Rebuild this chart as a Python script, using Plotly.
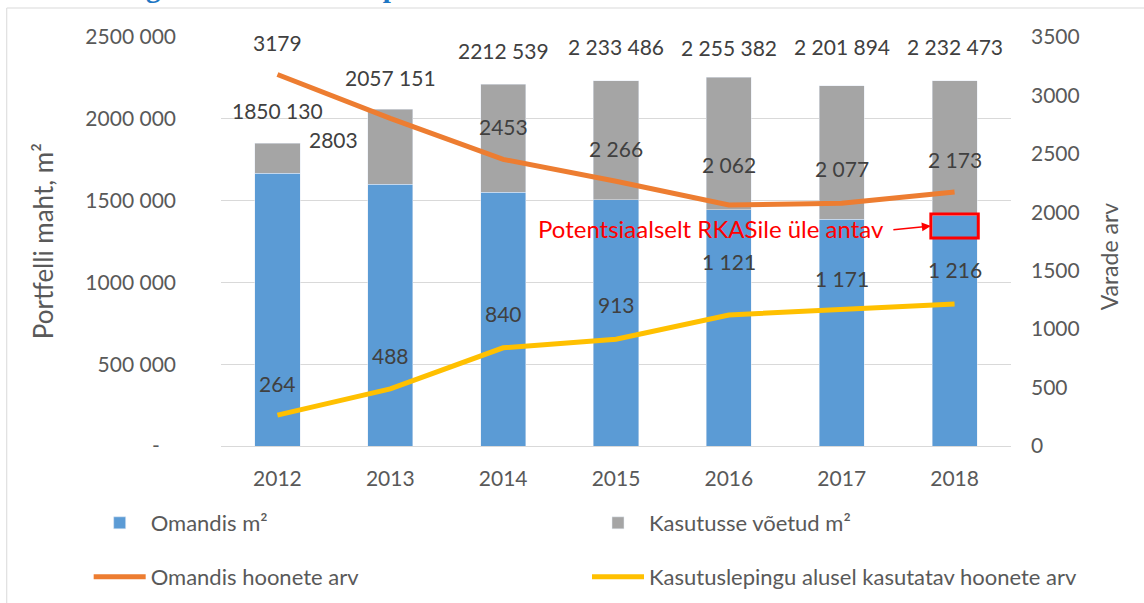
import plotly.graph_objects as go

years = ["2012", "2013", "2014", "2015", "2016", "2017", "2018"]
owned_m2 = [1667000, 1600000, 1551000, 1505000, 1443000, 1386000, 1410000]
total_m2 = [1850130, 2057151, 2212539, 2233486, 2255382, 2201894, 2232473]
total_labels = ["1850 130", "2057 151", "2212 539", "2 233 486", "2 255 382", "2 201 894", "2 232 473"]
used_m2 = [t - o for t, o in zip(total_m2, owned_m2)]
owned_count = [3179, 2803, 2453, 2266, 2062, 2077, 2173]
owned_count_labels = ["3179", "2803", "2453", "2 266", "2 062", "2 077", "2 173"]
lease_count = [264, 488, 840, 913, 1121, 1171, 1216]
lease_count_labels = ["264", "488", "840", "913", "1 121", "1 171", "1 216"]

left_ticks = [0, 500000, 1000000, 1500000, 2000000, 2500000]
left_ticktext = ["-\u00a0\u00a0\u00a0", "500 000", "1000 000", "1500 000", "2000 000", "2500 000"]

# label offsets (px) -- styling only
total_shift = [33, 32, 34, 34, 30, 39, 34]
owned_shift = [(0, 32), (-57, -21), (0, 33), (0, 33), (0, 41), (0, 35), (0, 33)]
lease_shift = [32, 33, 34, 35, 54, 31, 34]

BLUE = "#5B9BD5"
GRAY = "#A5A5A5"
ORANGE = "#ED7D31"
YELLOW = "#FFC000"
TXT = "#595959"
LBL = "#404040"
FONT = "Lato"

fig = go.Figure()
fig.add_trace(go.Bar(x=years, y=owned_m2, name="Omandis m²", marker_color=BLUE,
                     width=0.4, legend="legend"))
fig.add_trace(go.Bar(x=years, y=used_m2, name="Kasutusse võetud m²", marker_color=GRAY,
                     width=0.4, legend="legend2"))
fig.add_trace(go.Scatter(x=years, y=owned_count, name="Omandis hoonete arv", mode="lines",
                         line=dict(color=ORANGE, width=5), yaxis="y2", legend="legend3"))
fig.add_trace(go.Scatter(x=years, y=lease_count, name="Kasutuslepingu alusel kasutatav hoonete arv",
                         mode="lines", line=dict(color=YELLOW, width=5), yaxis="y2", legend="legend4"))

ann = []
for i in range(len(years)):
    ann.append(dict(x=i, y=total_m2[i], xref="x", yref="y", text=total_labels[i],
                    showarrow=False, yshift=total_shift[i], font=dict(size=21, color=LBL, family=FONT)))
    ann.append(dict(x=i, y=owned_count[i], xref="x", yref="y2", text=owned_count_labels[i],
                    showarrow=False, xshift=owned_shift[i][0], yshift=owned_shift[i][1],
                    font=dict(size=21, color=LBL, family=FONT)))
    ann.append(dict(x=i, y=lease_count[i], xref="x", yref="y2", text=lease_count_labels[i],
                    showarrow=False, yshift=lease_shift[i], font=dict(size=21, color=LBL, family=FONT)))

last = len(years) - 1
# red callout
ann.append(dict(x=last - 0.21, y=1332000, xref="x", yref="y", text="Potentsiaalselt RKASile üle antav",
                showarrow=False, xanchor="right", xshift=-45,
                font=dict(size=24, color="#FF0000", family=FONT)))
ann.append(dict(x=last - 0.21, y=1345000, xref="x", yref="y", text="", showarrow=True,
                ax=-39, ay=4, arrowhead=2, arrowsize=1.2, arrowwidth=1.5, arrowcolor="#FF0000", standoff=0))
# axis titles
ann.append(dict(x=-0.2257, y=0.5, xref="paper", yref="paper", text="Portfelli maht, m²", textangle=-90,
                xanchor="center", yanchor="middle",
                showarrow=False, font=dict(size=26, color=TXT, family=FONT)))
ann.append(dict(x=1.1245, y=0.4645, xref="paper", yref="paper", text="Varade arv", textangle=-90,
                xanchor="center", yanchor="middle",
                showarrow=False, font=dict(size=23, color=TXT, family=FONT)))
# clipped caption at top
ann.append(dict(x=-0.2813, y=1.0783, xref="paper", yref="paper", xanchor="left", yanchor="bottom",
                text="<b>Joonis 2 Riigihaldaste hoonete portfelli dünaamika</b>", showarrow=False,
                font=dict(size=29, color="#1F77C4", family="Liberation Serif")))

shapes = [
    dict(type="rect", xref="x", yref="y", x0=last - 0.21, x1=last + 0.21, y0=1271000, y1=1418000,
         line=dict(color="#FF0000", width=3)),
    dict(type="rect", xref="paper", yref="paper", x0=-0.2712, x1=1.19, y0=-0.43, y1=1.0709,
         line=dict(color="#D9D9D9", width=1), layer="below"),
]

leg_common = dict(orientation="h", xanchor="left", yanchor="middle", itemwidth=52,
                  font=dict(size=22, color=TXT), bgcolor="rgba(0,0,0,0)")
col1 = -0.1675
col2 = 0.4633
row1 = -0.1883
row2 = -0.3203

fig.update_layout(
    width=1144, height=603,
    margin=dict(l=220.5, r=132.5, t=37, b=157, autoexpand=False),
    barmode="stack",
    showlegend=True,
    plot_bgcolor="white", paper_bgcolor="white",
    font=dict(family=FONT, size=21, color=TXT),
    xaxis=dict(type="category", range=[-0.5, 6.5], showgrid=False, showline=True,
               linecolor="#D9D9D9", linewidth=1,
               ticks="", ticklabelstandoff=14, tickfont=dict(size=21, color=TXT)),
    yaxis=dict(range=[0, 2500000], tickvals=left_ticks, ticktext=left_ticktext,
               showgrid=True, gridcolor="#D9D9D9", gridwidth=1, zeroline=False,
               ticklabelstandoff=44, tickfont=dict(size=21, color=TXT)),
    yaxis2=dict(range=[0, 3500], dtick=500, overlaying="y", side="right", showgrid=False,
                zeroline=False, ticklabelstandoff=19, tickfont=dict(size=21, color=TXT)),
    legend=dict(x=col1, y=row1, **leg_common),
    legend2=dict(x=col2, y=row1, **leg_common),
    legend3=dict(x=col1, y=row2, **leg_common),
    legend4=dict(x=col2, y=row2, **leg_common),
    annotations=ann,
    shapes=shapes,
)

fig.write_html("out.html", config={"displayModeBar": False},
               post_script="document.body.style.margin='0';document.body.style.overflow='hidden';")
